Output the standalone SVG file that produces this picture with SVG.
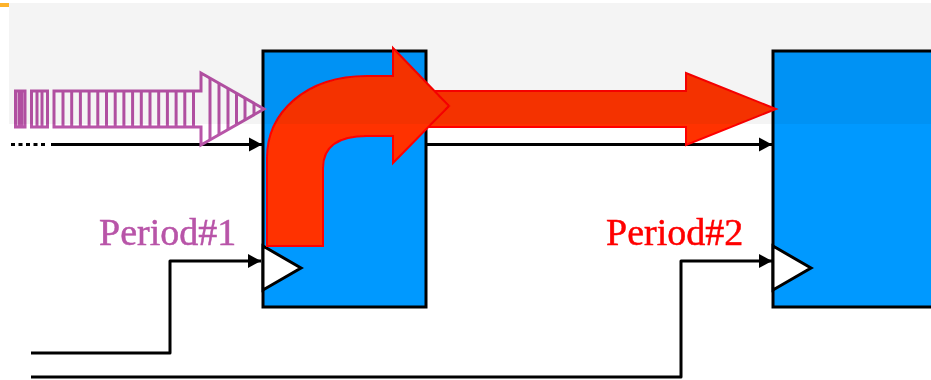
<svg xmlns="http://www.w3.org/2000/svg" width="931" height="380" viewBox="0 0 931 380">
<style>
.block{fill:#0099ff;stroke:#000;stroke-width:3}
.clk{fill:#fff;stroke:#000;stroke-width:3;stroke-linejoin:miter}
.wire{fill:none;stroke:#000;stroke-width:3;stroke-linejoin:round}
.purple{fill:none;stroke:#b854a8;stroke-width:3}
.red{fill:#ff3300;stroke:#ff0000;stroke-width:2}
.label{font-family:"Liberation Serif","Times New Roman",serif;font-size:38px;stroke-width:0.5px}
</style>
<defs>
<marker id="ah" markerUnits="userSpaceOnUse" markerWidth="14" markerHeight="16" refX="13" refY="8" orient="auto"><path d="M0 1L13 8L0 15Z" fill="#000"/></marker>
<filter id="soft" x="-2%" y="-2%" width="104%" height="104%"><feGaussianBlur stdDeviation="0.55"/></filter>
</defs>
<rect width="931" height="380" fill="#fff"/>
<g filter="url(#soft)">
<rect x="0" y="3" width="9" height="4" fill="#fdb22a"/>
<g id="connectors">
<path class="wire" d="M11 144.500H48" stroke-dasharray="4 3.500"/>
<path class="wire" d="M51 144.500H262" marker-end="url(#ah)"/>
<path class="wire" d="M427 144.500H772" marker-end="url(#ah)"/>
<path class="wire" d="M31 353H170V261H261" marker-end="url(#ah)"/>
<path class="wire" d="M31 377H681V261H772" marker-end="url(#ah)"/>
</g>
<g id="block1">
<rect class="block" x="263" y="51" width="163" height="256"/>
<path class="clk" d="M263 246L301 268L263 290Z"/>
</g>
<g id="block2">
<rect class="block" x="773" y="51" width="170" height="256"/>
<path class="clk" d="M773 246L811 268L773 290Z"/>
</g>
<g id="data-arrow-purple">
<rect class="purple" x="15.500" y="91" width="9.500" height="36"/>
<path class="purple" d="M19 91V127M22 91V127"/>
<rect class="purple" x="31.500" y="91" width="16" height="36"/>
<path class="purple" d="M37 91V127M42 91V127"/>
<path class="purple" d="M54 91H201V73L264 109L201 145V127H54Z"/>
<path class="purple" d="M63 91V127M71.700 91V127M80.400 91V127M89.100 91V127M97.800 91V127M106.500 91V127M115.200 91V127M123.900 91V127M132.600 91V127M141.300 91V127M150 91V127M158.700 91V127M167.400 91V127M176.100 91V127M184.800 91V127M193.500 91V127M210 78V140M219 83V135M228 88V130M236.500 93V125M245 98V120M254 103V115" stroke-width="2.500"/>
</g>
<g id="red-arrow-straight">
<path class="red" d="M430 91H686V73L776 109L686 145V127H430Z"/>
</g>
<g id="red-arrow-bent">
<path class="red" d="M267 246V158C267 113 305 76 367 76H393V48L449 106L393 163V136H367C340 136 323 145 323 168V246Z"/>
</g>
<g id="label-period1"><text class="label" x="99" y="245" fill="#b854a8" stroke="#b854a8">Period#1</text></g>
<g id="label-period2"><text class="label" x="606" y="245" fill="#ff0000" stroke="#ff0000">Period#2</text></g>
<rect x="9" y="3" width="922" height="121" fill="#000" fill-opacity="0.045"/>
</g>
</svg>
